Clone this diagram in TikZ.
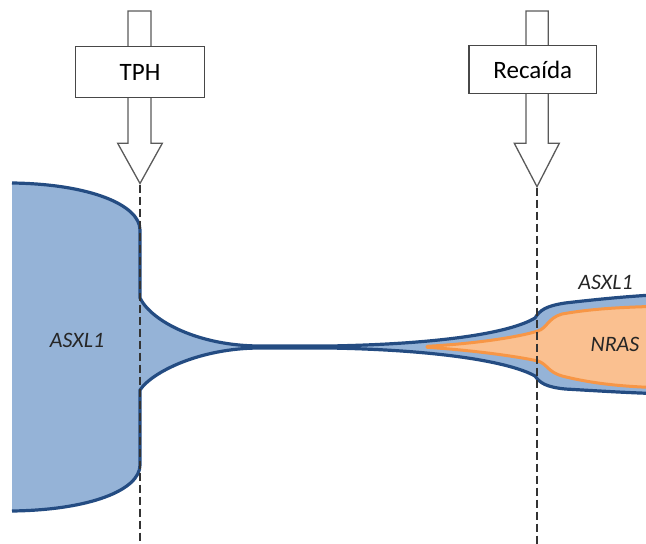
\documentclass[tikz,border=0pt]{standalone}
\usepackage{fontspec}
\setmainfont{Carlito}
\definecolor{bluefill}{RGB}{149,179,215}
\definecolor{blueline}{RGB}{36,76,130}
\definecolor{orangefill}{RGB}{250,192,144}
\definecolor{orangeline}{RGB}{247,150,70}
\definecolor{arrowgray}{RGB}{90,90,90}
\tikzset{
  blockarrow/.style={draw=arrowgray, fill=white, line width=1.3pt, line join=miter},
  labelbox/.style={draw=arrowgray!80!black, fill=white, line width=1.3pt, inner sep=0pt,
    font=\fontsize{25}{30}\selectfont},
  genelabel/.style={font=\fontsize{22}{26}\selectfont\itshape, text=black!85, inner sep=0pt},
  guideline/.style={draw=black!80, line width=2pt, dash pattern=on 8pt off 4pt},
  blueclone/.style={fill=bluefill},
  blueedge/.style={draw=blueline, line width=3.2pt, line join=round},
  orangeclone/.style={fill=orangefill, draw=orangeline, line width=3pt, line join=round}
}
\begin{document}
\begin{tikzpicture}[x=1pt,y=-1pt]
\useasboundingbox (0,0) rectangle (646,544);
\clip (0,0) rectangle (646,544);
% blue clone
\def\bluepath{(12,183) .. controls (90,184) and (140,205) .. (140,230)
  -- (140,298) .. controls (152,322) and (200,346) .. (260,346)
  -- (330,346) .. controls (440,344) and (510,333) .. (535,318)
  .. controls (540,310) and (546,306) .. (565,303)
  .. controls (600,299) and (630,296) .. (670,294)
  -- (670,394)
  .. controls (630,393) and (600,391) .. (565,389)
  .. controls (546,387) and (540,383) .. (535,376)
  .. controls (510,362) and (440,350) .. (330,348)
  -- (260,348) .. controls (200,348) and (152,372) .. (140,390)
  -- (140,465) .. controls (140,490) and (90,510) .. (12,511)}
\path[blueclone] \bluepath -- cycle;
\path[blueedge] \bluepath;
% orange clone
\path[orangeclone] (427,346.3) .. controls (470,344) and (515,338) .. (538,331)
  .. controls (547,328) and (548,318) .. (562,314)
  .. controls (590,309) and (620,307) .. (670,306)
  -- (670,388)
  .. controls (620,387) and (590,383) .. (562,376)
  .. controls (548,372) and (547,364) .. (538,361)
  .. controls (515,356) and (470,350) .. (427,347.3) -- cycle;
% labels
\node[genelabel] (asxlA) at (77,340.5) {ASXL1};
\node[genelabel] (asxlB) at (605.5,282.5) {ASXL1};
\node[genelabel] (nras) at (615,344.5) {NRAS};
% block arrows
\draw[blockarrow] (128,11) -- (151,11) -- (151,143.3) -- (162.3,143.3) -- (140,183.5)
  -- (117.7,143.3) -- (128,143.3) -- cycle;
\draw[blockarrow] (526,11) -- (548.3,11) -- (548.3,143.3) -- (559.3,143.3) -- (537,186.7)
  -- (514.3,143.3) -- (526,143.3) -- cycle;
\coordinate (tipA) at (140,184.5);
\coordinate (tipB) at (537,187.7);
\coordinate (endA) at (140,544);
\coordinate (endB) at (537,544);
\draw[guideline] (tipA) -- (endA);
\draw[guideline] (tipB) -- (endB);
% boxes
\node[labelbox, minimum width=128.6pt, minimum height=51pt] (tph) at (140,72.2) {TPH};
\node[labelbox, minimum width=127.7pt, minimum height=47.6pt] (recaida) at (532.8,69.5) {Recaída};
\end{tikzpicture}
\end{document}
